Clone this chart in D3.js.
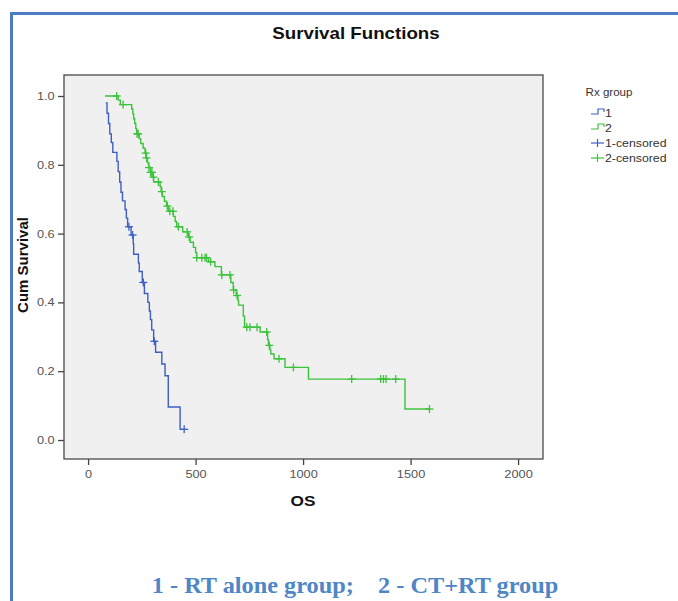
<!DOCTYPE html>
<html>
<head>
<meta charset="utf-8">
<script src="https://cdn.jsdelivr.net/npm/d3@7"></script>
<style>
html,body{margin:0;padding:0;background:#fff;}
svg{display:block;}
</style>
</head>
<body>
<svg id="chart" width="678" height="601"></svg>
<script>
// ---------- data ----------
const xTicks = [0, 500, 1000, 1500, 2000];
const yTicks = [0.0, 0.2, 0.4, 0.6, 0.8, 1.0];

// Group 1 (RT alone): step times and survival after each step
const g1Times = [82, 88, 95, 101, 108, 115, 134, 140, 147, 153, 160, 172, 178, 184, 200, 210, 212, 234, 238, 252, 262, 278, 285, 290, 296, 305, 314, 343, 358, 373, 428];
const g1Surv  = [0.98, 0.95, 0.92, 0.89, 0.865, 0.836, 0.81, 0.78, 0.75, 0.72, 0.695, 0.67, 0.645, 0.62, 0.596, 0.57, 0.54, 0.515, 0.49, 0.458, 0.426, 0.40, 0.375, 0.35, 0.32, 0.287, 0.255, 0.221, 0.187, 0.096, 0.031];
const g1Censored = [190, 207, 257, 308, 447];

// Group 2 (CT+RT)
const g2Times = [79, 140, 150, 203, 208, 212, 217, 222, 226, 238, 245, 256, 265, 270, 276, 282, 290, 298, 305, 335, 340, 345, 355, 365, 373, 397, 405, 412, 440, 466, 475, 490, 500, 505, 560, 590, 620, 664, 675, 689, 697, 700, 722, 728, 800, 835, 839, 846, 850, 865, 916, 1025, 1474];
const g2Surv  = [1.0, 0.988, 0.975, 0.962, 0.948, 0.934, 0.92, 0.905, 0.89, 0.876, 0.862, 0.848, 0.834, 0.82, 0.806, 0.792, 0.778, 0.764, 0.75, 0.736, 0.722, 0.708, 0.694, 0.68, 0.665, 0.65, 0.635, 0.62, 0.605, 0.59, 0.575, 0.56, 0.545, 0.53, 0.518, 0.504, 0.48, 0.458, 0.436, 0.42, 0.406, 0.392, 0.36, 0.328, 0.314, 0.292, 0.275, 0.262, 0.25, 0.236, 0.211, 0.177, 0.09];
const g2Censored = [133, 163, 228, 233, 268, 272, 283, 291, 297, 304, 327, 343, 369, 380, 395, 420, 461, 470, 505, 529, 544, 551, 570, 622, 660, 677, 693, 738, 753, 786, 831, 843, 888, 955, 1226, 1361, 1374, 1386, 1431, 1588];

const legendTitle = "Rx group";
const legendLabels = ["1", "2", "1-censored", "2-censored"];
const colors = ["#3d5fc4", "#3cc23c"];

// ---------- layout ----------
const svg = d3.select("#chart");
const plot = {left: 64, right: 543, top: 75, bottom: 459};
const SANS = "Liberation Sans, Arial, sans-serif";

const x = d3.scaleLinear().domain([-112, 2116]).range([plot.left, plot.right]);
const y = d3.scaleLinear().domain([-0.0552, 1.061]).range([plot.bottom, plot.top]);

// helper: horizontally stretched text
function sText(parent, tx, ty, sx, str) {
  return parent.append("text")
    .attr("transform", `translate(${tx},${ty}) scale(${sx},1)`)
    .text(str);
}

// outer blue frame
svg.append("path")
  .attr("d", "M11.5,610 L11.5,13.5 L690,13.5")
  .attr("fill", "none").attr("stroke", "#4a7cc4").attr("stroke-width", 3);

// title
sText(svg, 356, 39, 1.17, "Survival Functions")
  .attr("text-anchor", "middle").attr("font-family", SANS)
  .attr("font-weight", "bold").attr("font-size", 16).attr("fill", "#111");

// plot background
svg.append("rect")
  .attr("x", plot.left).attr("y", plot.top)
  .attr("width", plot.right - plot.left).attr("height", plot.bottom - plot.top)
  .attr("fill", "#f0f0f0").attr("stroke", "#4a4a4a").attr("stroke-width", 1.3);

// axes
const yAxis = d3.axisLeft(y).tickValues(yTicks).tickFormat(d3.format(".1f")).tickSize(6).tickSizeOuter(0).tickPadding(2);
const gy = svg.append("g").attr("transform", `translate(${plot.left},0)`).call(yAxis);
const xAxis = d3.axisBottom(x).tickValues(xTicks).tickFormat(d3.format("d")).tickSize(6).tickSizeOuter(0).tickPadding(5);
const gx = svg.append("g").attr("transform", `translate(0,${plot.bottom})`).call(xAxis);
[gx, gy].forEach(g => {
  g.select(".domain").remove();
  g.selectAll(".tick line").attr("stroke", "#444").attr("stroke-width", 1.3);
  g.selectAll(".tick text").attr("fill", "#555").attr("font-size", 11)
    .attr("font-family", SANS).attr("transform", "scale(1.16,1)");
});

// axis titles
sText(svg, 303, 506, 1.15, "OS")
  .attr("text-anchor", "middle").attr("font-family", SANS)
  .attr("font-weight", "bold").attr("font-size", 15).attr("fill", "#111");
svg.append("text")
  .attr("transform", "translate(28,265) rotate(-90)").attr("text-anchor", "middle")
  .attr("font-family", SANS)
  .attr("font-weight", "bold").attr("font-size", 15).attr("fill", "#111")
  .text("Cum Survival");

// ---------- curves ----------
const series = [
  {times: g1Times, surv: g1Surv, cens: g1Censored},
  {times: g2Times, surv: g2Surv, cens: g2Censored}
];
const line = d3.line().x(d => x(d[0])).y(d => y(d[1])).curve(d3.curveStepAfter);
function survAt(s, t) {
  let v = s.surv[0];
  for (let i = 0; i < s.times.length; i++) { if (s.times[i] <= t) v = s.surv[i]; }
  return v;
}
series.forEach((s, i) => {
  const pts = s.times.map((t, k) => [t, s.surv[k]]);
  const tEnd = d3.max(s.cens.concat(s.times));
  pts.push([tEnd, s.surv[s.surv.length - 1]]);
  svg.append("path").attr("d", line(pts))
    .attr("fill", "none").attr("stroke", colors[i]).attr("stroke-width", 1.4);
  const g = svg.append("g").attr("stroke", colors[i]).attr("stroke-width", 1.3);
  s.cens.forEach(t => {
    const cx = x(t), cy = y(survAt(s, t));
    g.append("line").attr("x1", cx - 4).attr("x2", cx + 4).attr("y1", cy).attr("y2", cy);
    g.append("line").attr("x1", cx).attr("x2", cx).attr("y1", cy - 4).attr("y2", cy + 4);
  });
});

// ---------- legend ----------
const lg = svg.append("g").attr("font-family", SANS).attr("font-size", 11).attr("fill", "#333");
sText(lg, 609, 96, 1.05, legendTitle).attr("text-anchor", "middle");
const ly = [113, 128, 143, 158];
legendLabels.forEach((lab, i) => {
  const c = colors[i % 2];
  const yy = ly[i];
  if (i < 2) {
    lg.append("path")
      .attr("d", `M591,${yy + 1} L598,${yy + 1} L598,${yy - 4} L604,${yy - 4} L604,${yy - 1}`)
      .attr("fill", "none").attr("stroke", c).attr("stroke-width", 1.2);
  } else {
    lg.append("line").attr("x1", 591).attr("x2", 604).attr("y1", yy).attr("y2", yy)
      .attr("stroke", c).attr("stroke-width", 1.2);
    lg.append("line").attr("x1", 597.5).attr("x2", 597.5).attr("y1", yy - 4).attr("y2", yy + 4)
      .attr("stroke", c).attr("stroke-width", 1.2);
  }
  sText(lg, 605, yy + 4, 1.12, lab);
});

// caption
sText(svg, 355, 593, 1.08, "1 - RT alone group;    2 - CT+RT group")
  .attr("text-anchor", "middle")
  .attr("font-family", "Liberation Serif, Times New Roman, serif")
  .attr("font-weight", "bold").attr("font-size", 22.5).attr("fill", "#4f86c6")
  .attr("xml:space", "preserve").style("white-space", "pre");
</script>
</body>
</html>
